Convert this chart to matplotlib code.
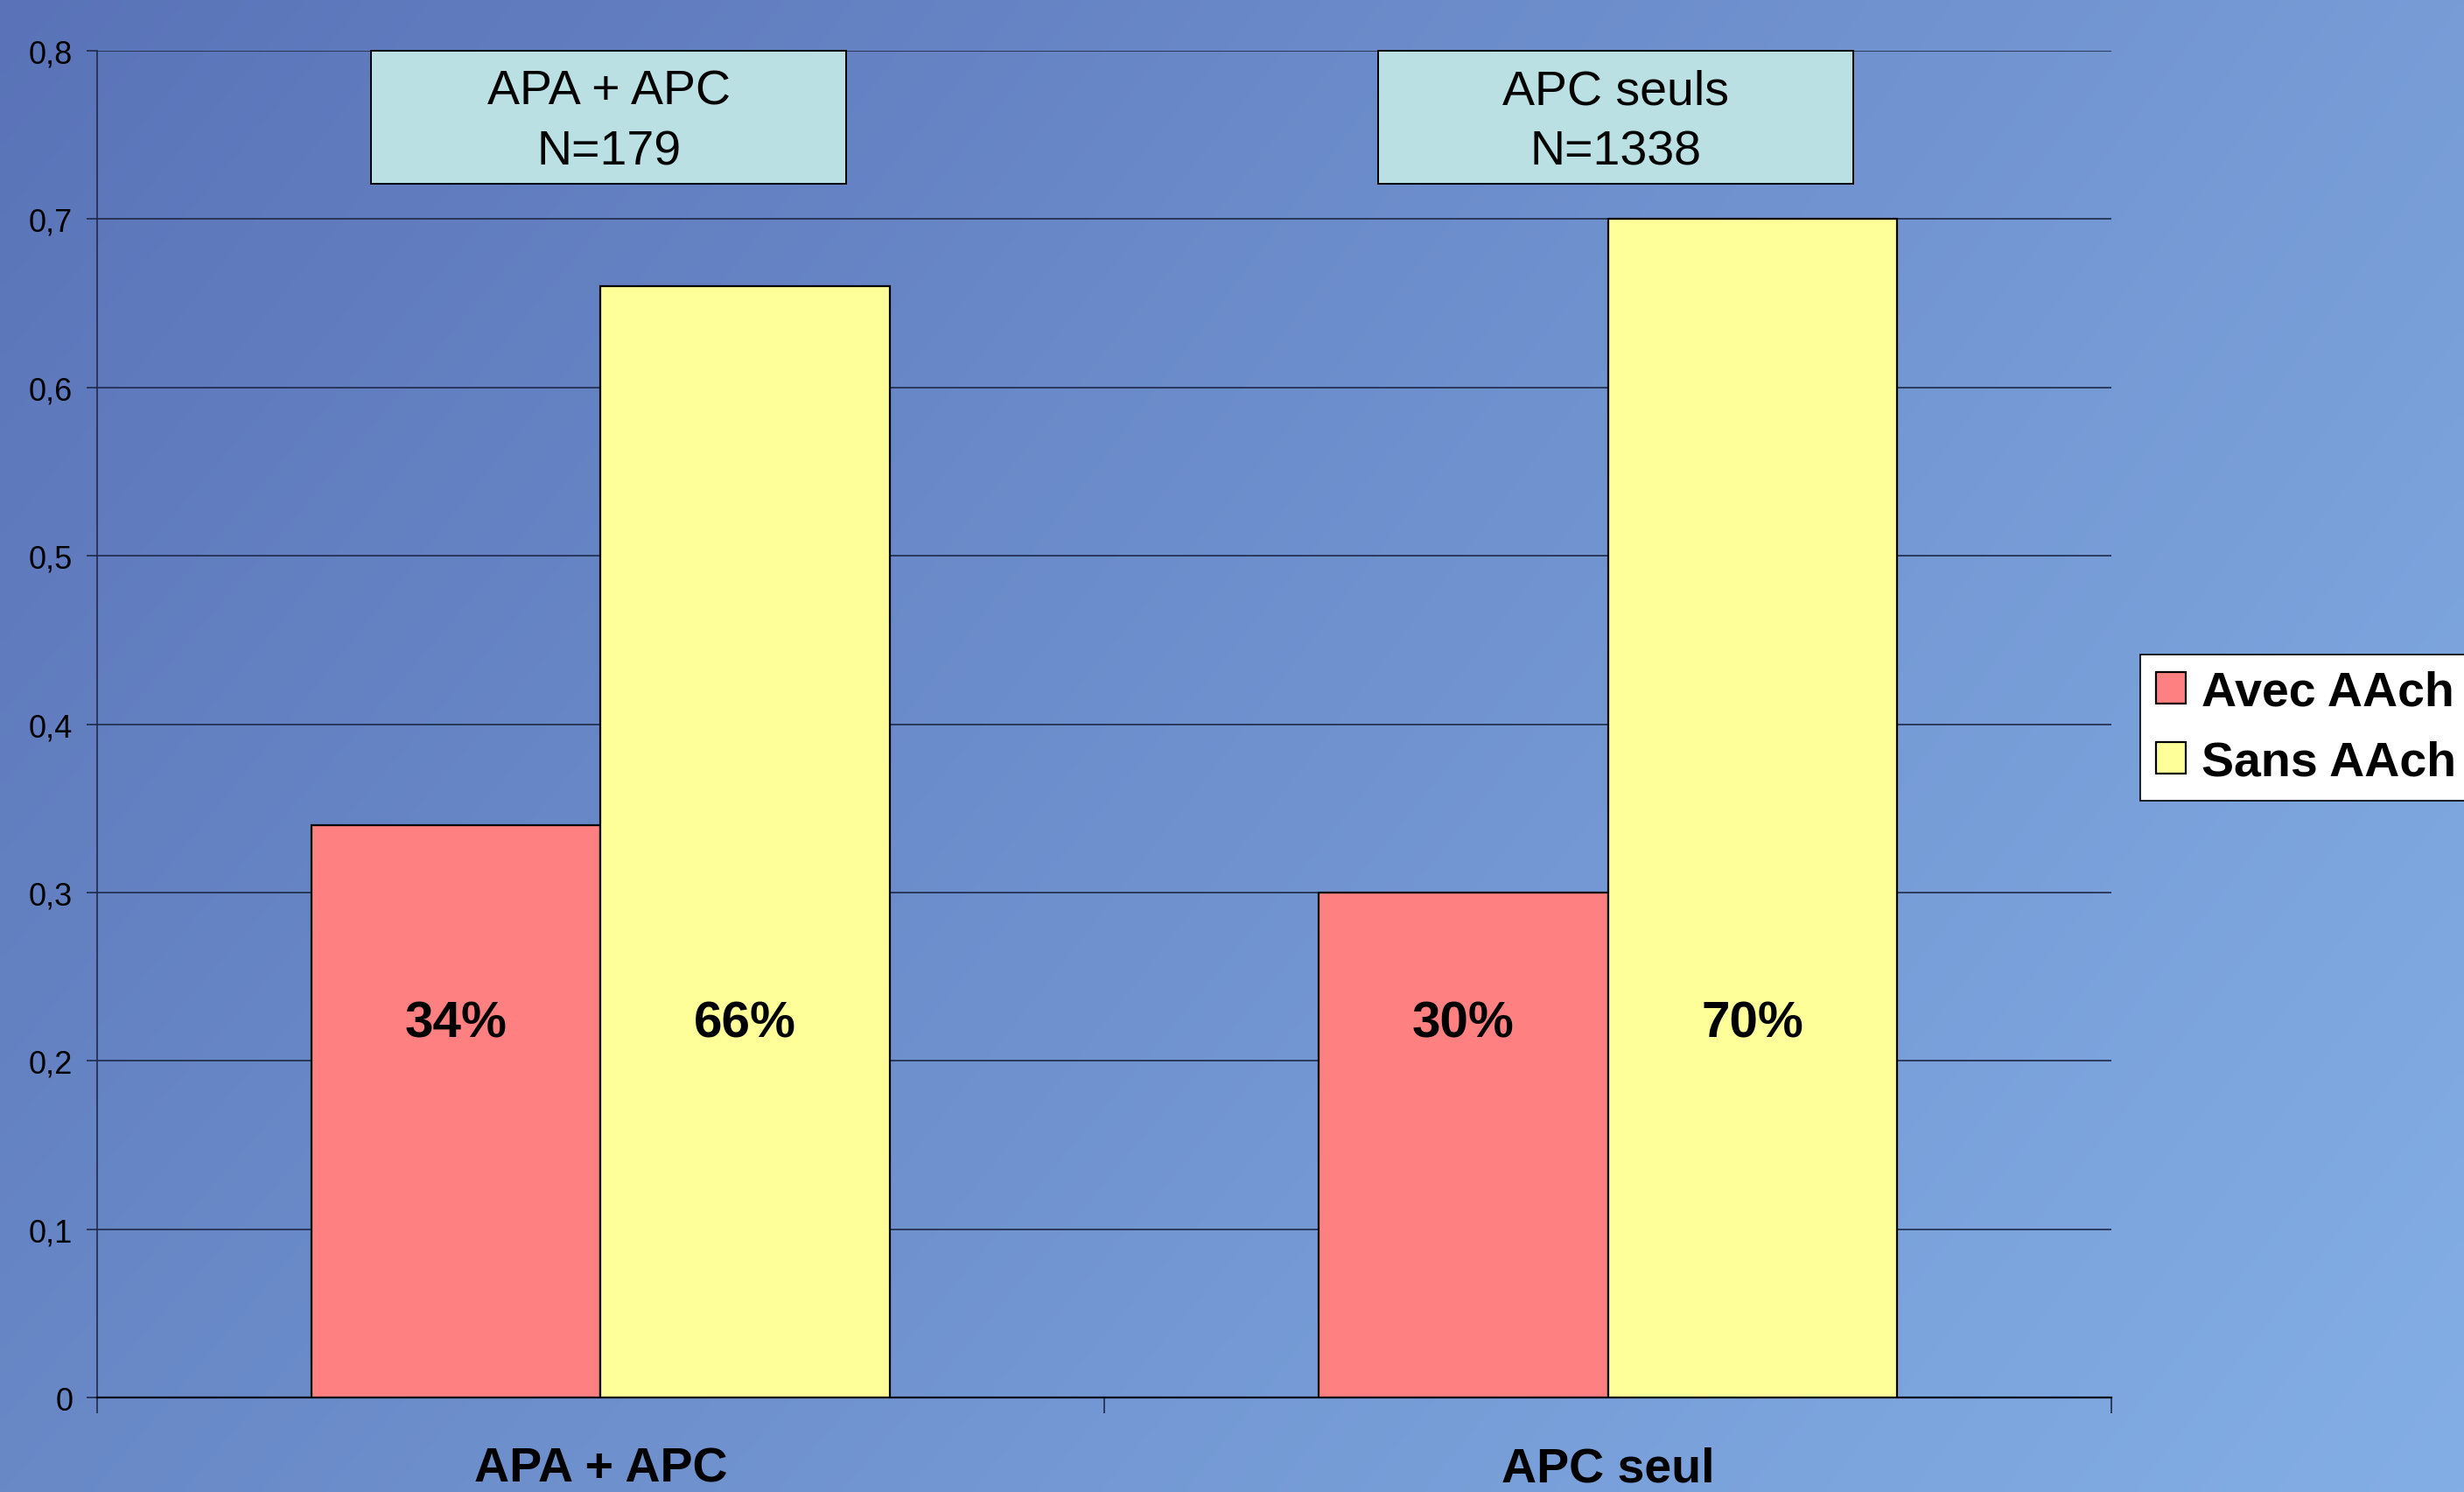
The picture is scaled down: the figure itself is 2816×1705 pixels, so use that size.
import numpy as np
import matplotlib
matplotlib.use("Agg")
import matplotlib.pyplot as plt
from matplotlib.patches import Rectangle

plt.rcParams['font.family'] = ['Liberation Sans', 'DejaVu Sans']

# data
categories = ["APA + APC", "APC seul"]
series_names = ["Avec AAch", "Sans AAch"]
avec = [0.34, 0.30]
sans = [0.66, 0.70]
pct_avec = ["34%", "30%"]
pct_sans = ["66%", "70%"]
box_labels = ["APA + APC\nN=179", "APC seuls\nN=1338"]
yticks = [0, 0.1, 0.2, 0.3, 0.4, 0.5, 0.6, 0.7, 0.8]

red = "#FF8080"
yellow = "#FFFF99"
boxcol = "#BAE0E3"
gridcol = "#1E2A48"

fig = plt.figure(figsize=(28.16, 17.06), dpi=100)

# gradient background
bg = fig.add_axes([0, 0, 1, 1], zorder=-10)
tl = np.array([90, 115, 184]) / 255
tr = np.array([119, 156, 214]) / 255
bl = np.array([104, 136, 198]) / 255
br = np.array([131, 174, 229]) / 255
u = np.linspace(0, 1, 300)[None, :, None]
v = np.linspace(0, 1, 200)[:, None, None]
img = (1 - v) * ((1 - u) * tl + u * tr) + v * ((1 - u) * bl + u * br)
bg.imshow(img, aspect='auto', extent=[0, 1, 0, 1], interpolation='bilinear')
bg.set_axis_off()

ax = fig.add_axes([0.0394, 0.0633, 0.8175, 0.9021])
ax.set_facecolor('none')

x = np.arange(len(categories))
w = 0.287
ax.bar(x - w / 2, avec, w, color=red, edgecolor='black', linewidth=1.6,
       label=series_names[0], zorder=3)
ax.bar(x + w / 2, sans, w, color=yellow, edgecolor='black', linewidth=1.6,
       label=series_names[1], zorder=3)

for i in range(len(categories)):
    ax.text(x[i] - w / 2, 0.222, pct_avec[i], ha='center', va='center',
            fontsize=42, fontweight='bold', zorder=4)
    ax.text(x[i] + w / 2, 0.222, pct_sans[i], ha='center', va='center',
            fontsize=42, fontweight='bold', zorder=4)
    # label boxes at the top
    ax.add_patch(Rectangle((x[i] - 0.228, 0.721), 0.472, 0.079,
                           facecolor=boxcol, edgecolor='black', linewidth=1.4,
                           zorder=5, clip_on=False))
    ax.text(x[i] + 0.008, 0.7578, box_labels[i], ha='center', va='center',
            fontsize=40, linespacing=1.42, zorder=6)

ax.set_xlim(-0.5, 1.5)
ax.set_ylim(0, 0.8)
ax.set_yticks(yticks)
ax.set_yticklabels([("%.1f" % t).replace(".", ",") if t else "0" for t in yticks],
                   fontsize=26)
ax.yaxis.grid(True, color=gridcol, linewidth=1.2, zorder=0)
ax.set_axisbelow(True)
ax.tick_params(axis='y', length=9, width=1.2, color=gridcol, pad=11)

ax.set_xticks(x)
ax.set_xticklabels(categories, fontsize=40, fontweight='bold')
ax.set_xticks([-0.5, 0.5, 1.5], minor=True)
ax.tick_params(axis='x', which='major', length=0, pad=40)
ax.tick_params(axis='x', which='minor', length=13, width=1.2, color=gridcol)

for s in ['top', 'right']:
    ax.spines[s].set_visible(False)
ax.spines['left'].set_color(gridcol)
ax.spines['left'].set_linewidth(1.2)
ax.spines['bottom'].set_color('black')
ax.spines['bottom'].set_linewidth(1.6)

leg = ax.legend(loc='upper left', bbox_to_anchor=(0.8686, 0.561),
                bbox_transform=fig.transFigure, borderaxespad=0,
                prop={'size': 40, 'weight': 'bold'}, handlelength=0.62,
                handleheight=0.62, handletextpad=0.32, borderpad=0.32,
                labelspacing=0.5, fancybox=False, framealpha=1,
                edgecolor='black')
leg.get_frame().set_linewidth(1.2)
for h in leg.legend_handles:
    h.set_linewidth(1.6)

fig.savefig("out.png", dpi=100)
